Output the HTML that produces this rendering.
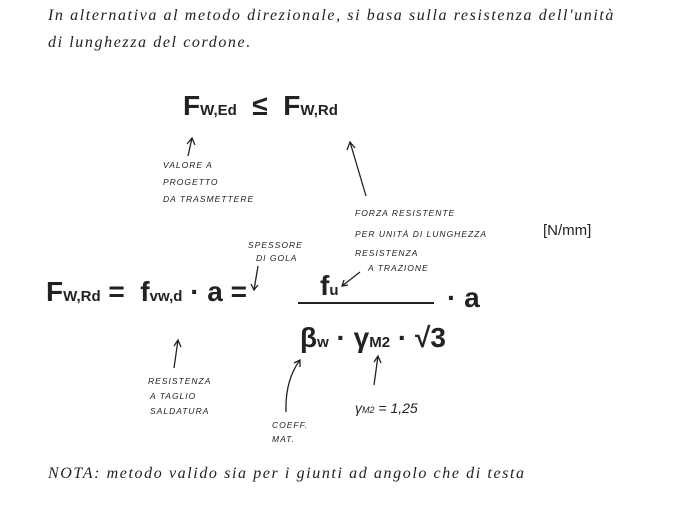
<!DOCTYPE html>
<html><head><meta charset="utf-8"><style>
html,body{margin:0;padding:0;background:#fff;}
body{width:681px;height:514px;position:relative;overflow:hidden;font-family:"Liberation Sans",sans-serif;color:#222;}
.t{position:absolute;white-space:nowrap;}
.h{font-family:"Liberation Serif",serif;font-style:italic;font-size:16px;letter-spacing:1.6px;}
.s{font-size:8.5px;letter-spacing:1px;font-style:italic;}
.big{font-family:"Liberation Sans",sans-serif;font-size:28px;font-weight:bold;}
.sub{font-size:15px;font-weight:bold;}
svg{position:absolute;left:0;top:0;}
</style></head><body>
<div class="t h" style="left:48px;top:7px;">In alternativa al metodo direzionale, si basa sulla resistenza dell'unità</div>
<div class="t h" style="left:48px;top:34px;">di lunghezza del cordone.</div>

<div class="t big" style="left:183px;top:90px;">F<span class="sub">W,Ed</span> &nbsp;≤ &nbsp;F<span class="sub">W,Rd</span></div>

<div class="t s" style="left:163px;top:160px;">VALORE A</div>
<div class="t s" style="left:163px;top:177px;">PROGETTO</div>
<div class="t s" style="left:163px;top:194px;">DA TRASMETTERE</div>

<div class="t s" style="left:355px;top:208px;">FORZA RESISTENTE</div>
<div class="t s" style="left:355px;top:229px;">PER UNITÀ DI LUNGHEZZA</div>
<div class="t" style="left:543px;top:222px;font-size:15px;">[N/mm]</div>

<div class="t s" style="left:248px;top:240px;">SPESSORE</div>
<div class="t s" style="left:256px;top:253px;">DI GOLA</div>
<div class="t s" style="left:355px;top:248px;">RESISTENZA</div>
<div class="t s" style="left:368px;top:263px;">A TRAZIONE</div>

<div class="t big" style="left:46px;top:276px;">F<span class="sub">W,Rd</span> = &nbsp;f<span class="sub">vw,d</span> · a =</div>
<div class="t big" style="left:320px;top:270px;">f<span class="sub">u</span></div>
<div class="t" style="left:298px;top:302px;width:136px;height:2px;background:#222;"></div>
<div class="t big" style="left:300px;top:322px;">β<span class="sub">w</span> · γ<span class="sub">M2</span> · √3</div>
<div class="t big" style="left:447px;top:282px;">· a</div>

<div class="t s" style="left:148px;top:376px;">RESISTENZA</div>
<div class="t s" style="left:150px;top:391px;">A TAGLIO</div>
<div class="t s" style="left:150px;top:406px;">SALDATURA</div>
<div class="t s" style="left:272px;top:420px;">COEFF.</div>
<div class="t s" style="left:272px;top:434px;">MAT.</div>
<div class="t" style="left:355px;top:400px;font-size:14px;font-style:italic;">γ<span style="font-size:9px">M2</span> = 1,25</div>

<div class="t h" style="left:48px;top:465px;">NOTA: metodo valido sia per i giunti ad angolo che di testa</div>

<svg width="681" height="514" fill="none" stroke="#222" stroke-width="1.3">
<path d="M188 156 L192 138 M187 144 L192 138 L195 145"/>
<path d="M366 196 L350 142 M347 150 L350 142 L355 148"/>
<path d="M258 266 L254 290 M251 284 L254 290 L258 285"/>
<path d="M360 272 L342 286 M344 280 L342 286 L348 285"/>
<path d="M174 368 L178 340 M174 346 L178 340 L181 347"/>
<path d="M286 412 Q285 380 300 360 M294 363 L300 360 L300 367"/>
<path d="M374 385 L378 356 M374 362 L378 356 L381 363"/>
</svg>
</body></html>
